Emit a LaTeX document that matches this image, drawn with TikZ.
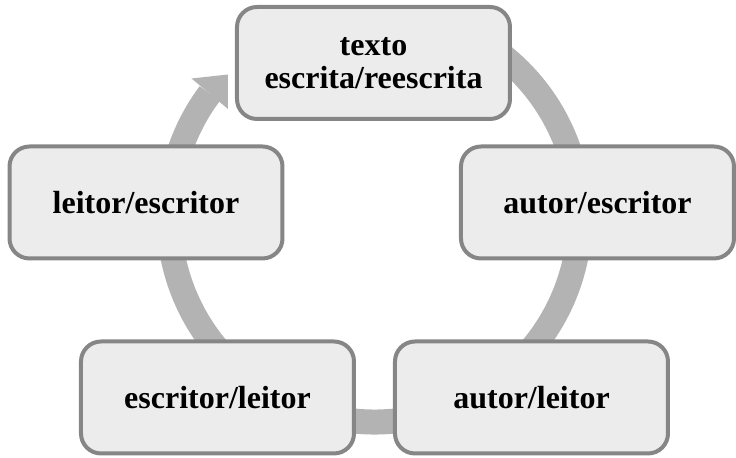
\documentclass[tikz,border=0pt]{standalone}
\usepackage{fontspec}
\setmainfont{Liberation Serif}
\usepackage{xcolor}
\usepackage{tikz}

\definecolor{boxfill}{RGB}{236,236,236}
\definecolor{boxline}{RGB}{134,134,134}
\definecolor{ringgray}{RGB}{179,179,179}

\begin{document}
\begin{tikzpicture}[x=0.5pt,y=0.5pt]
\tikzstyle{box} = [rectangle, rounded corners=10pt, minimum width=136.5pt, minimum height=56pt, align=center, draw=boxline, line width=2pt, fill=boxfill, font=\fontsize{16}{16.5}\selectfont\bfseries]
\tikzstyle{ring} = [line width=12.5pt, draw=ringgray]

\useasboundingbox (0,0) rectangle (736,458);

% Ring
\coordinate (c) at (374.4,241.5);
\draw [ring] (c) ++(75:205.5) arc[start angle=75, end angle=-216.75, radius=205.5];
\fill [ringgray] (191.5,379.5) -- (228,383.5) -- (228,349) -- cycle;

% Nodes
\node (texto) [box] at (373.5,395) {texto\\escrita/reescrita};
\node (autesc) [box] at (597.5,255.5) {autor/escritor};
\node (autlei) [box] at (531.5,60.5) {autor/leitor};
\node (esclei) [box] at (217.5,60.5) {escritor/leitor};
\node (leiesc) [box] at (146,255.5) {leitor/escritor};

\end{tikzpicture}
\end{document}
